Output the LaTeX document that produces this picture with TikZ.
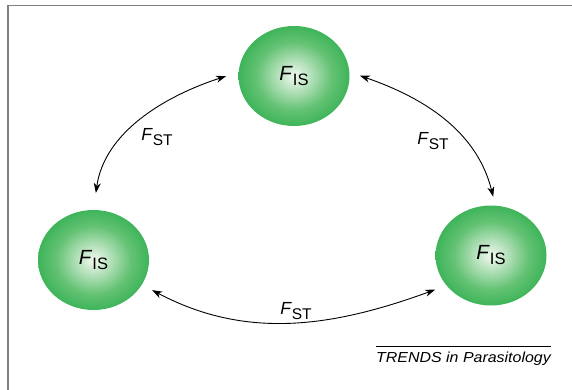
\documentclass[tikz,border=0pt]{standalone}
\usepackage{fontspec}
\setmainfont{Liberation Sans}
\usetikzlibrary{arrows.meta,shapes.geometric}

\definecolor{ballin}{RGB}{230,244,230}
\definecolor{ballmid}{RGB}{100,194,116}
\definecolor{ballout}{RGB}{34,170,70}
\definecolor{framegray}{RGB}{128,128,128}

% pale centre fading to a saturated green rim (rim sits near 35bp)
\pgfdeclareradialshading{greenball}{\pgfpoint{0bp}{0bp}}{%
  color(0bp)=(ballin); color(1.5bp)=(ballin); color(17bp)=(ballmid);
  color(31bp)=(ballout); color(50bp)=(ballout)}

\newcommand{\isfactor}{{\fontsize{20.5}{20.5}\selectfont\textit{F}\raisebox{-5pt}{\fontsize{16.5}{16.5}\selectfont IS}}}
\newcommand{\stfactor}{{\fontsize{17.5}{17.5}\selectfont\textit{F}\raisebox{-4.5pt}{\fontsize{15.5}{15.5}\selectfont ST}}}

\tikzset{
  deme/.style={ellipse, minimum width=111pt, minimum height=100pt,
    inner sep=0pt, shading=greenball, draw=none},
  flow/.style={{Stealth[length=10pt,width=7pt,inset=3pt]}-{Stealth[length=10pt,width=7pt,inset=3pt]},
    line width=0.9pt, black},
  fst/.style={inner sep=0pt},
  framerule/.style={draw=framegray, line width=1.8pt}
}

\begin{document}
\begin{tikzpicture}[x=1pt, y=-1pt]
  \useasboundingbox (0,0) rectangle (572,390);

  % open frame: top and left edges
  \coordinate (fa) at (7.1,5.5);
  \coordinate (fb) at (573,5.5);
  \coordinate (fc) at (8,391);
  \draw[framerule] (fb) -- (fa) -- (8,5.5) -- (fc);

  % the three subpopulations
  \node[deme] (top) at (294,76) {\isfactor};
  \node[deme] (lft) at (93.5,260) {\isfactor};
  \node[deme] (rgt) at (491,255.5) {\isfactor};

  % gene flow between them
  \draw[flow, shorten <=13pt, shorten >=17pt] (top.176) to[out=198, in=82] (lft.north);
  \draw[flow, shorten <=11pt, shorten >=9pt] (top.4) to[out=-19, in=104] (rgt.85);
  \draw[flow, shorten <=11.5pt, shorten >=12pt] (lft.-27) to[out=-28, in=200] (rgt.214);

  % differentiation labels
  \node[fst] (stl) at (157,137) {\stfactor};
  \node[fst] (str) at (433,141) {\stfactor};
  \node[fst] (stb) at (296,311) {\stfactor};

  % journal credit
  \node[anchor=base west, inner sep=0pt] (credit) at (376,362)
    {\scalebox{1.1}[1]{\fontsize{14.5}{14.5}\selectfont\itshape TRENDS in Parasitology}};
  \draw[line width=0.8pt] (credit.north west |- 0,346) -- (credit.north east |- 0,346);
\end{tikzpicture}
\end{document}
